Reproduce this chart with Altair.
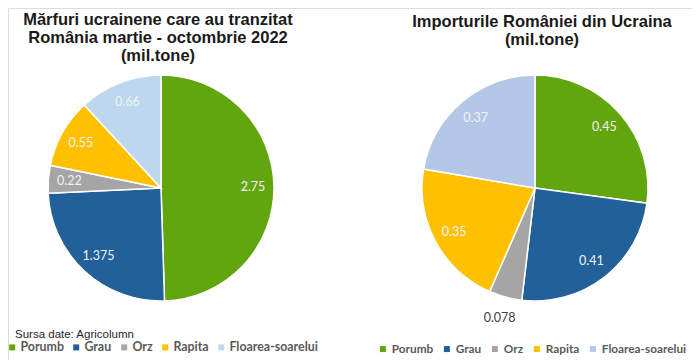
import altair as alt
import pandas as pd

categories = ["Porumb", "Grau", "Orz", "Rapita", "Floarea-soarelui"]
tranzit = [2.75, 1.375, 0.22, 0.55, 0.66]
importuri = [0.45, 0.41, 0.078, 0.35, 0.37]

colors_left = ["#62A60F", "#22609A", "#A5A5A5", "#FFC000", "#BDD7EE"]
colors_right = ["#62A60F", "#22609A", "#A5A5A5", "#FFC000", "#B4C7E7"]

title_left = ["Mărfuri ucrainene care au tranzitat", "România martie - octombrie 2022", "(mil.tone)"]
title_right = ["Importurile României din Ucraina", "(mil.tone)"]
source_text = "Sursa date: Agricolumn"

W, H = 684, 352
R = 113


def make_df(vals):
    return pd.DataFrame({
        "cat": categories,
        "v": vals,
        "i": list(range(len(categories))),
        "lbl": [str(v) for v in vals],
    })


def pie(vals, cx, cy, colors, legend_x, legend_y, lfs, col_pad, lab_off, outside_cat=None):
    df = make_df(vals)
    base = (
        alt.Chart(df)
        .transform_window(cum="sum(v)", sort=[alt.SortField("i")], frame=[None, 0])
        .transform_joinaggregate(total="sum(v)")
        .transform_calculate(
            t0="2*PI*(datum.cum-datum.v)/datum.total",
            t1="2*PI*datum.cum/datum.total",
            tm="2*PI*(datum.cum-datum.v/2)/datum.total",
        )
    )
    arcs = base.mark_arc(radius=R, stroke="white", strokeWidth=1.5).encode(
        theta=alt.Theta("t0:Q", scale=None),
        theta2="t1:Q",
        x=alt.value(cx),
        y=alt.value(cy),
        color=alt.Color(
            "cat:N",
            scale=alt.Scale(domain=categories, range=colors),
            sort=categories,
            legend=alt.Legend(
                orient="none",
                legendX=legend_x,
                legendY=legend_y,
                direction="horizontal",
                title=None,
                symbolType="square",
                symbolSize=36,
                symbolStrokeWidth=0,
                labelFont="Lato",
                labelFontSize=lfs,
                labelFontWeight="bold",
                labelColor="#595959",
                labelOffset=lab_off,
                columnPadding=col_pad,
                padding=0,
            ),
        ),
    )
    inside_filter = "true" if outside_cat is None else f"datum.cat != '{outside_cat}'"
    txt_in = base.transform_filter(inside_filter).mark_text(
        font="Lato", fontSize=12.5, color="#F2F2F2", baseline="middle", align="center"
    ).encode(
        theta=alt.Theta("tm:Q", scale=None),
        radius=alt.value(92),
        x=alt.value(cx),
        y=alt.value(cy),
        text="lbl:N",
    )
    layers = [arcs, txt_in]
    if outside_cat is not None:
        txt_out = base.transform_filter(f"datum.cat == '{outside_cat}'").mark_text(
            font="Lato", fontSize=12.5, color="#404040", baseline="middle", align="center"
        ).encode(
            theta=alt.Theta("tm:Q", scale=None),
            radius=alt.value(135),
            x=alt.value(cx),
            y=alt.value(cy),
            text="lbl:N",
        )
        layers.append(txt_out)
    return layers


left = pie(tranzit, 153, 180, colors_left, -2, 333, 12.4, 6, 2)
right = pie(importuri, 527, 180, colors_right, 369, 335, 11.8, 7, 3, outside_cat="Orz")

dummy = pd.DataFrame({"a": [0]})
t_left = alt.Chart(dummy).mark_text(
    font="Arial", fontSize=16.5, fontWeight="bold", color="#1A1A1A",
    align="center", baseline="top", lineHeight=18,
).encode(x=alt.value(150), y=alt.value(4), text=alt.value(title_left))
t_right = alt.Chart(dummy).mark_text(
    font="Arial", fontSize=16.5, fontWeight="bold", color="#1A1A1A",
    align="center", baseline="top", lineHeight=18,
).encode(x=alt.value(534), y=alt.value(6), text=alt.value(title_right))
t_src = alt.Chart(dummy).mark_text(
    font="Arial", fontSize=11.5, color="#262626", align="left", baseline="alphabetic",
).encode(x=alt.value(7), y=alt.value(330), text=alt.value(source_text))

chart = (
    alt.layer(*left, *right, t_left, t_right, t_src)
    .resolve_scale(color="independent")
    .properties(width=W, height=H, padding=0, autosize=alt.AutoSizeParams(type="none"))
    .configure_view(stroke=None)
    .configure(background="white")
)

chart.save("out.html", embed_options={"renderer": "svg", "actions": False})
